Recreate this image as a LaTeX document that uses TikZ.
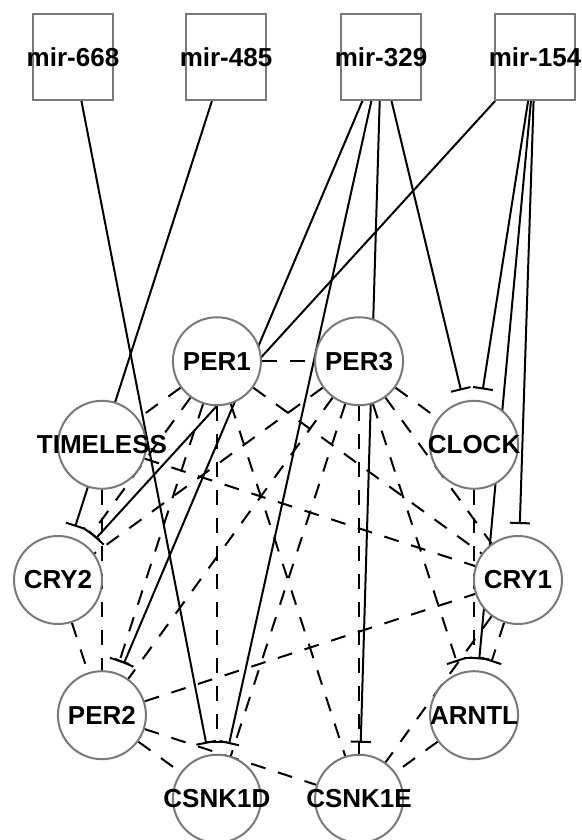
\documentclass[tikz,border=0pt]{standalone}
\usepackage{fontspec}
\setmainfont{Liberation Sans}
\usetikzlibrary{arrows.meta, backgrounds}
\tikzstyle{gene} = [circle,
			draw = gray!95!black,
			line width = 2pt,
			fill = white,
			minimum size = 88pt,
			inner sep = 0pt,
			font = \fontsize{26}{30}\selectfont\bfseries]
\tikzstyle{mirna} = [rectangle,
			draw = gray!95!black,
			line width = 2pt,
			fill = white,
			minimum width = 80pt,
			minimum height = 86pt,
			inner sep = 0pt,
			font = \fontsize{26}{30}\selectfont\bfseries]
\tikzstyle{inhib} = [draw, line width = 2pt, -{Bar[width=20pt]}, shorten > = 11pt]
\tikzstyle{ppi} = [draw, line width = 2pt, dash pattern = on 15pt off 13pt]
\tikzstyle{ppiinhib} = [ppi, -{Bar[width=20pt]}, shorten > = 11pt]
% text may run out of its shape
\newcommand{\nm}[1]{\makebox[0pt]{#1}}

\begin{document}
\begin{tikzpicture}[x=1pt, y=1pt]
	\useasboundingbox (-288,-260) rectangle (293,580);
	% microRNAs
	\node [mirna] (mir668) at (-215,523) {\nm{mir-668}};
	\node [mirna] (mir485) at (-62,523) {\nm{mir-485}};
	\node [mirna] (mir329) at (93,523) {\nm{mir-329}};
	\node [mirna] (mir154) at (247,523) {\nm{mir-154}};
	% clock genes on a ring
	\node [gene] (PER3) at (72:230) {\nm{PER3}};
	\node [gene] (PER1) at (108:230) {\nm{PER1}};
	\node [gene] (TIMELESS) at (144:230) {\nm{TIMELESS}};
	\node [gene] (CRY2) at (180:230) {\nm{CRY2}};
	\node [gene] (PER2) at (216:230) {\nm{PER2}};
	\node [gene] (CSNK1D) at (252:230) {\nm{CSNK1D}};
	\node [gene] (CSNK1E) at (288:230) {\nm{CSNK1E}};
	\node [gene] (ARNTL) at (324:230) {\nm{ARNTL}};
	\node [gene] (CRY1) at (0:230) {\nm{CRY1}};
	\node [gene] (CLOCK) at (36:230) {\nm{CLOCK}};
	\begin{pgfonlayer}{background}
	% miRNA targets
	\path [inhib] (mir668) -- (CSNK1D);
	\path [inhib] (mir485) -- (CRY2);
	\path [inhib] (mir329) -- (PER2);
	\path [inhib] (mir329) -- (CSNK1D);
	\path [inhib] (mir329) -- (CSNK1E);
	\path [inhib] (mir329) -- (CLOCK);
	\path [inhib] (mir154) -- (CRY2);
	\path [inhib] (mir154) -- (CLOCK);
	\path [inhib] (mir154) -- (CRY1);
	\path [inhib] (mir154) -- (ARNTL);
	% interactions
	\path [ppi] (PER1) -- (PER3);
	\path [ppi] (PER1) -- (TIMELESS);
	\path [ppiinhib] (PER1) -- (CRY2);
	\path [ppiinhib] (PER1) -- (PER2);
	\path [ppiinhib] (PER1) -- (CSNK1D);
	\path [ppi] (PER1) -- (CSNK1E);
	\path [ppi] (PER1) -- (CRY1);
	\path [ppi] (PER3) -- (CRY2);
	\path [ppi] (PER3) -- (PER2);
	\path [ppi] (PER3) -- (CSNK1D);
	\path [ppi] (PER3) -- (CSNK1E);
	\path [ppiinhib] (PER3) -- (ARNTL);
	\path [ppi] (PER3) -- (CLOCK);
	\path [ppi] (PER3) -- (CRY1);
	\path [ppi] (TIMELESS) -- (PER2);
	\path [ppi] (TIMELESS) -- (CRY1);
	\path [ppiinhib] (CLOCK) -- (ARNTL);
	\path [ppi] (CRY2) -- (PER2);
	\path [ppi] (PER2) -- (CRY1);
	\path [ppiinhib] (CRY1) -- (ARNTL);
	\path [ppi] (CRY1) -- (CSNK1E);
	\path [ppi] (PER2) -- (CSNK1D);
	\path [ppi] (PER2) -- (CSNK1E);
	\path [ppi] (ARNTL) -- (CSNK1E);
	\end{pgfonlayer}
\end{tikzpicture}
\end{document}
